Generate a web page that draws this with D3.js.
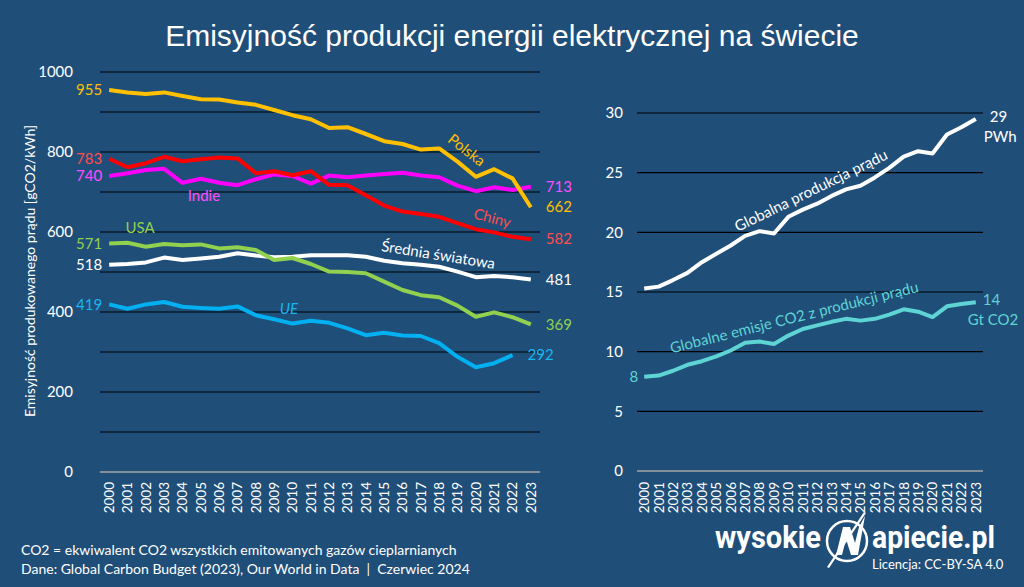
<!DOCTYPE html>
<html>
<head>
<meta charset="utf-8">
<script src="https://cdn.jsdelivr.net/npm/d3@7"></script>
<style>
  html, body { margin: 0; padding: 0; background: #1f4e79; }
  svg { display: block; }
</style>
</head>
<body>
<div id="chart"></div>
<script>
// --- data ---
const years = d3.range(2000, 2024).map(String);

const polska = [955, 949, 945, 949, 940, 932, 931, 924, 918, 905, 892, 882, 860, 862, 845, 827, 820, 806, 809, 776, 738, 757, 734, 662];
const chiny = [783, 762, 772, 788, 777, 782, 786, 784, 747, 752, 742, 752, 718, 717, 692, 666, 651, 645, 638, 622, 607, 599, 588, 582];
const indie = [740, 747, 755, 758, 723, 733, 723, 717, 732, 744, 740, 721, 741, 737, 741, 745, 748, 741, 737, 716, 702, 712, 705, 713];
const usa = [571, 573, 563, 570, 567, 569, 559, 562, 555, 530, 535, 520, 501, 500, 497, 476, 455, 442, 437, 416, 388, 399, 387, 369];
const swiat = [518, 520, 524, 536, 530, 534, 538, 547, 541, 537, 538, 542, 542, 542, 538, 528, 522, 518, 513, 501, 487, 490, 487, 481];
const ue = [419, 408, 419, 425, 413, 410, 408, 414, 392, 382, 371, 378, 373, 359, 342, 348, 341, 340, 322, 288, 262, 272, 292, null];

const produkcja = [15.3, 15.45, 16.0, 16.6, 17.5, 18.2, 18.9, 19.7, 20.1, 19.9, 21.3, 21.9, 22.4, 23.05, 23.6, 23.9, 24.6, 25.4, 26.35, 26.8, 26.6, 28.2, 28.8, 29.5];
const emisje = [7.9, 8.0, 8.4, 8.9, 9.2, 9.6, 10.1, 10.75, 10.85, 10.65, 11.35, 11.9, 12.2, 12.5, 12.75, 12.6, 12.75, 13.1, 13.55, 13.35, 12.9, 13.8, 14.0, 14.15];

const leftTicks = [0, 200, 400, 600, 800, 1000];
const rightTicks = [0, 5, 10, 15, 20, 25, 30];

const W = 1024, H = 587;
const bg = '#1f4e79';
const sans = 'Lato, "Open Sans", sans-serif';

const svg = d3.select('#chart').append('svg')
  .attr('width', W).attr('height', H)
  .attr('viewBox', [0, 0, W, H]);

svg.append('rect').attr('width', W).attr('height', H).attr('fill', bg);

// title
svg.append('text')
  .attr('x', 512).attr('y', 46)
  .attr('text-anchor', 'middle')
  .attr('fill', '#fff')
  .style('font-family', '"Liberation Sans", Arial, sans-serif')
  .style('font-size', '30px')
  .text('Emisyjność produkcji energii elektrycznej na świecie');

// ---------- left chart ----------
const xL = d3.scalePoint().domain(years).range([100, 540]).padding(0.5);
const yL = d3.scaleLinear().domain([0, 1000]).range([472, 72]);

const gL = svg.append('g');

gL.append('g')
  .selectAll('line')
  .data(d3.range(100, 1001, 100))
  .join('line')
  .attr('x1', 100).attr('x2', 540)
  .attr('y1', d => yL(d)).attr('y2', d => yL(d))
  .attr('stroke', '#000').attr('stroke-width', 1.2);

gL.append('line')
  .attr('x1', 100).attr('x2', 540)
  .attr('y1', yL(0)).attr('y2', yL(0))
  .attr('stroke', '#a6a6a6').attr('stroke-width', 1.5);

gL.append('g')
  .selectAll('text')
  .data(leftTicks)
  .join('text')
  .attr('x', 73).attr('y', d => yL(d)).attr('dy', '0.35em')
  .attr('text-anchor', 'end')
  .attr('fill', '#fff')
  .style('font-family', sans).style('font-size', '15px')
  .text(d => d);

gL.append('g')
  .selectAll('text')
  .data(years)
  .join('text')
  .attr('transform', d => `translate(${xL(d)},482) rotate(-90)`)
  .attr('dy', '0.36em')
  .attr('text-anchor', 'end')
  .attr('fill', '#fff')
  .style('font-family', sans).style('font-size', '13.5px')
  .text(d => d);

gL.append('text')
  .attr('transform', 'translate(30,271) rotate(-90)')
  .attr('dy', '0.35em')
  .attr('text-anchor', 'middle')
  .attr('fill', '#fff')
  .style('font-family', sans).style('font-size', '14px')
  .text('Emisyjność produkowanego prądu [gCO2/kWh]');

const seriesL = [
  { name: 'swiat', values: swiat, color: '#ffffff', label: '#ffffff' },
  { name: 'usa', values: usa, color: '#92d050', label: '#92d050' },
  { name: 'ue', values: ue, color: '#00b0f0', label: '#1ab6f0' },
  { name: 'indie', values: indie, color: '#ff00ff', label: '#ff4dff' },
  { name: 'chiny', values: chiny, color: '#ff0000', label: '#ff4d4d' },
  { name: 'polska', values: polska, color: '#ffc000', label: '#ffc000' }
];

const lineL = d3.line()
  .defined(d => d.v != null)
  .x(d => xL(d.y))
  .y(d => yL(d.v));

seriesL.forEach(s => {
  const pts = years.map((y, i) => ({ y, v: s.values[i] }));
  gL.append('path')
    .datum(pts)
    .attr('d', lineL)
    .attr('fill', 'none')
    .attr('stroke', s.color)
    .attr('stroke-width', 4)
    .attr('stroke-linejoin', 'round');

  // first value on the left
  gL.append('text')
    .attr('x', xL(years[0]) - 7).attr('y', yL(s.values[0])).attr('dy', '0.35em')
    .attr('text-anchor', 'end')
    .attr('fill', s.label)
    .style('font-family', sans).style('font-size', '15px')
    .text(s.values[0]);

  // last value on the right
  let li = s.values.length - 1;
  while (s.values[li] == null) li--;
  gL.append('text')
    .attr('x', xL(years[li]) + 15).attr('y', yL(s.values[li])).attr('dy', '0.35em')
    .attr('fill', s.label)
    .style('font-family', sans).style('font-size', '15px')
    .text(s.values[li]);
});

// series names
const idxX = (sc, i) => sc(years[0]) + i * sc.step();
const namesL = [
  { t: 'Polska', i: 19.5, v: 805, a: 38, c: '#ffc000' },
  { t: 'Chiny', i: 20.9, v: 635, a: 15, c: '#ff4d4d' },
  { t: 'Średnia światowa', i: 17.95, v: 543, a: 9, c: '#ffffff' },
  { t: 'Indie', i: 5.17, v: 690, a: 0, c: '#ff4dff' },
  { t: 'USA', i: 1.68, v: 610, a: 0, c: '#92d050' },
  { t: 'UE', i: 9.8, v: 407, a: 0, c: '#1ab6f0', it: true }
];
gL.append('g')
  .selectAll('text')
  .data(namesL)
  .join('text')
  .attr('transform', d => `translate(${idxX(xL, d.i)},${yL(d.v)}) rotate(${d.a})`)
  .attr('dy', '0.35em')
  .attr('text-anchor', 'middle')
  .attr('fill', d => d.c)
  .style('font-family', sans).style('font-size', '15px')
  .style('font-style', d => d.it ? 'italic' : 'normal')
  .text(d => d.t);

// ---------- right chart ----------
const xR = d3.scalePoint().domain(years).range([637, 983]).padding(0.5);
const yR = d3.scaleLinear().domain([0, 30]).range([471, 113]);

const gR = svg.append('g');

gR.append('g')
  .selectAll('line')
  .data(rightTicks.slice(1))
  .join('line')
  .attr('x1', 637).attr('x2', 983)
  .attr('y1', d => yR(d)).attr('y2', d => yR(d))
  .attr('stroke', '#000').attr('stroke-width', 1.2);

gR.append('line')
  .attr('x1', 637).attr('x2', 983)
  .attr('y1', yR(0)).attr('y2', yR(0))
  .attr('stroke', '#a6a6a6').attr('stroke-width', 1.5);

gR.append('g')
  .selectAll('text')
  .data(rightTicks)
  .join('text')
  .attr('x', 623).attr('y', d => yR(d)).attr('dy', '0.35em')
  .attr('text-anchor', 'end')
  .attr('fill', '#fff')
  .style('font-family', sans).style('font-size', '15px')
  .text(d => d);

gR.append('g')
  .selectAll('text')
  .data(years)
  .join('text')
  .attr('transform', d => `translate(${xR(d)},482) rotate(-90)`)
  .attr('dy', '0.36em')
  .attr('text-anchor', 'end')
  .attr('fill', '#fff')
  .style('font-family', sans).style('font-size', '13.5px')
  .text(d => d);

const cyan = '#5fd4d4';
const lineR = d3.line().x((d, i) => xR(years[i])).y(d => yR(d));

gR.append('path').datum(produkcja).attr('d', lineR)
  .attr('fill', 'none').attr('stroke', '#fff').attr('stroke-width', 4)
  .attr('stroke-linejoin', 'round');
gR.append('path').datum(emisje).attr('d', lineR)
  .attr('fill', 'none').attr('stroke', cyan).attr('stroke-width', 4)
  .attr('stroke-linejoin', 'round');

const rLabels = [
  { t: '29', x: xR('2023') + 14, y: 117, c: '#fff' },
  { t: 'PWh', x: xR('2023') + 8, y: 137, c: '#fff' },
  { t: '14', x: xR('2023') + 7, y: 300, c: cyan },
  { t: 'Gt CO2', x: xR('2023') - 8, y: 320, c: cyan }
];
gR.append('g').selectAll('text').data(rLabels).join('text')
  .attr('x', d => d.x).attr('y', d => d.y).attr('dy', '0.35em')
  .attr('fill', d => d.c)
  .style('font-family', sans).style('font-size', '15px')
  .text(d => d.t);

gR.append('text')
  .attr('x', xR('2000') - 6).attr('y', yR(emisje[0])).attr('dy', '0.35em')
  .attr('text-anchor', 'end').attr('fill', cyan)
  .style('font-family', sans).style('font-size', '15px')
  .text(Math.round(emisje[0]));

const namesR = [
  { t: 'Globalna produkcja prądu', i: 11.57, v: 23.5, a: -26, c: '#fff' },
  { t: 'Globalne emisje CO2 z produkcji prądu', i: 10.4, v: 12.87, a: -14, c: cyan }
];
gR.append('g').selectAll('text').data(namesR).join('text')
  .attr('transform', d => `translate(${idxX(xR, d.i)},${yR(d.v)}) rotate(${d.a})`)
  .attr('dy', '0.35em')
  .attr('text-anchor', 'middle')
  .attr('fill', d => d.c)
  .style('font-family', sans).style('font-size', '15px')
  .text(d => d.t);

// ---------- footer ----------
const foot = svg.append('g')
  .attr('fill', '#fff')
  .style('font-family', sans).style('font-size', '14px');
foot.append('text').attr('x', 21).attr('y', 555)
  .text('CO2 = ekwiwalent CO2 wszystkich emitowanych gazów cieplarnianych');
foot.append('text').attr('x', 21).attr('y', 574)
  .text('Dane: Global Carbon Budget (2023), Our World in Data  |  Czerwiec 2024')
  .attr('xml:space', 'preserve');

// logo
const logo = svg.append('g').attr('fill', '#fff');
logo.append('text').attr('x', 715).attr('y', 548)
  .attr('textLength', 106).attr('lengthAdjust', 'spacingAndGlyphs')
  .style('font-family', 'Roboto, sans-serif').style('font-weight', 'bold').style('font-size', '31px')
  .text('wysokie');
logo.append('text').attr('x', 872).attr('y', 548)
  .attr('textLength', 123).attr('lengthAdjust', 'spacingAndGlyphs')
  .style('font-family', 'Roboto, sans-serif').style('font-weight', 'bold').style('font-size', '31px')
  .text('apiecie.pl');
logo.append('circle').attr('cx', 847).attr('cy', 541).attr('r', 20)
  .attr('fill', 'none').attr('stroke', '#fff').attr('stroke-width', 2.5);
logo.append('path')
  .attr('d', 'M836,555 L843,527 L850,527 L855,543 L859,527 L865,516 L858,555 L851,555 L846,539 L842,555 Z');
logo.append('path')
  .attr('d', 'M864,512 L866,513 L829,568 L827,567 Z');
logo.append('text').attr('x', 872).attr('y', 569)
  .style('font-family', sans).style('font-size', '13px')
  .text('Licencja: CC-BY-SA 4.0');
</script>
</body>
</html>
